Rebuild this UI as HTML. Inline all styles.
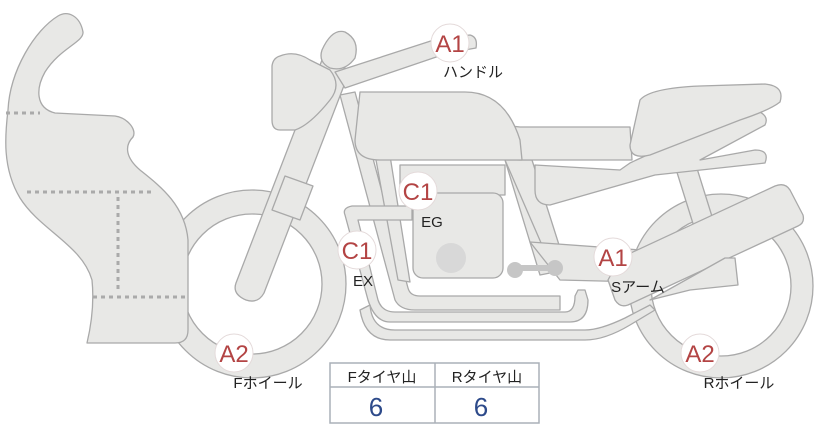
<!DOCTYPE html>
<html><head><meta charset="utf-8"><style>
body{margin:0;background:#fff;width:822px;height:425px;overflow:hidden}
svg{display:block}
text{font-family:"Liberation Sans","Noto Sans CJK JP",sans-serif}
</style></head><body>
<svg width="822" height="425" viewBox="0 0 822 425">
<g fill="#e8e8e6" stroke="#a9a9a9" stroke-width="1.3" stroke-linejoin="round">
<circle cx="721" cy="286" r="92"/>
<circle cx="721" cy="286" r="70" fill="#fff"/>
<circle cx="252" cy="284" r="94"/>
<circle cx="252" cy="284" r="70" fill="#fff"/>
<path d="M340,95 L395,300 Q400,310 415,310 L560,310 L560,296 L420,296 Q410,296 408,288 L355,92 Z"/>
<path d="M365,100 L398,280 L410,282 L382,105 Z"/>
<path d="M505,160 L540,275 L555,272 L520,160 Z"/>
<path d="M505,160 L532,160 L560,248 L545,252 Z"/>
<path d="M670,150 L695,230 L715,226 L690,146 Z"/>
<rect x="400" y="165" width="105" height="30"/>
<rect x="413" y="193" width="90" height="85" rx="10"/>
<circle cx="451" cy="258" r="15" fill="#d8d8d8" stroke="none"/>
<path d="M345,215 Q342,208 352,206 L412,206 L412,220 L358,220 L378,300 Q382,312 395,312 L565,312 Q575,312 575,296 L578,290 L585,290 L588,300 Q588,322 570,322 L390,322 Q375,322 368,300 Z"/>
<path d="M370,305 Q372,330 395,330 L585,330 Q600,330 625,318 L650,305 L655,310 L630,325 Q605,340 585,340 L390,340 Q365,340 360,310 Z"/>
<path d="M530,242 L640,250 L640,282 L560,280 Z"/>
<g fill="#c6c6c6" stroke="none"><circle cx="515" cy="270" r="8"/><circle cx="555" cy="268" r="8"/><rect x="515" y="265" width="40" height="6"/></g>
<path d="M620,258 L775,186 Q785,182 790,190 L803,215 Q805,223 798,226 L628,305 Q620,308 615,300 L608,280 Z"/>
<path d="M650,300 L725,258 L735,258 L738,285 L690,290 Z"/>
<path d="M535,165 L620,170 L630,163 Q700,130 755,110 Q770,115 765,125 L700,160 L755,150 Q770,150 765,163 L655,175 L550,205 Q535,205 535,190 Z"/>
<path d="M500,130 Q505,125 520,127 L630,127 L632,160 L520,160 Q505,160 500,150 Z"/>
<path d="M640,100 Q650,88 700,86 L765,84 Q785,86 780,102 Q770,110 740,120 L650,155 Q630,160 630,145 Z"/>
<path d="M360,92 L465,92 Q505,92 520,140 L522,160 L380,160 Q355,160 355,140 Z"/>
<path d="M236,283 L322,60 L350,70 L264,293 Q258,304 246,300 Q232,294 236,283 Z"/>
<path d="M285,176 L313,186 L300,220 L272,210 Z"/>
<path d="M335,72 L440,38 L470,35 Q478,37 476,48 L448,53 L345,88 Z"/>
<path d="M280,56 Q295,50 310,60 L330,70 Q342,85 330,100 Q310,125 295,130 L280,130 Q272,130 272,120 L272,66 Q273,58 280,56 Z"/>
<path d="M322,50 Q332,28 345,32 Q360,40 355,58 Q345,72 330,68 Q318,62 322,50 Z"/>
<path d="M8,110 C10,70 35,30 58,16 C68,10 80,16 83,32 C84,42 60,48 45,72 C36,88 35,108 55,113 L115,116 C128,118 137,130 133,137 C124,146 126,158 140,170 C160,186 185,205 188,240 L188,330 Q188,343 175,343 L87,343 C92,322 94,300 92,280 C82,245 40,230 20,198 C2,168 5,135 8,110 Z"/>
</g>
<g stroke="#aaa" stroke-width="3" stroke-dasharray="4,4" fill="none">
<path d="M6,113 H40"/><path d="M27,192 H155"/><path d="M118,197 V293"/><path d="M93,297 H188"/>
</g>
<g font-size="24" fill="#b34444" text-anchor="middle">
<g><circle cx="450" cy="43" r="19" fill="#fff" stroke="#e4dada"/><text x="450" y="52">A1</text></g>
<g><circle cx="418" cy="191" r="19" fill="#fff" stroke="#e4dada"/><text x="418" y="200">C1</text></g>
<g><circle cx="357" cy="250" r="19" fill="#fff" stroke="#e4dada"/><text x="357" y="259">C1</text></g>
<g><circle cx="613" cy="257" r="19" fill="#fff" stroke="#e4dada"/><text x="613" y="266">A1</text></g>
<g><circle cx="234" cy="353" r="19" fill="#fff" stroke="#e4dada"/><text x="234" y="362">A2</text></g>
<g><circle cx="700" cy="353" r="19" fill="#fff" stroke="#e4dada"/><text x="700" y="362">A2</text></g>
</g>
<g font-size="15" fill="#222" text-anchor="middle">
<text x="473" y="77">ハンドル</text>
<text x="432" y="227">EG</text>
<text x="363" y="286">EX</text>
<text x="638" y="292">Sアーム</text>
<text x="268" y="388">Fホイール</text>
<text x="739" y="388">Rホイール</text>
</g>
<g fill="none" stroke="#aab0b8" stroke-width="1.5">
<rect x="330" y="363" width="209" height="60"/>
<line x1="330" y1="387" x2="539" y2="387"/>
<line x1="435" y1="363" x2="435" y2="423"/>
</g>
<g text-anchor="middle">
<text x="382" y="382" font-size="15" fill="#222">Fタイヤ山</text>
<text x="487" y="382" font-size="15" fill="#222">Rタイヤ山</text>
<text x="376" y="416" font-size="26" fill="#2d4a8a">6</text>
<text x="481" y="416" font-size="26" fill="#2d4a8a">6</text>
</g>
</svg>
</body></html>
